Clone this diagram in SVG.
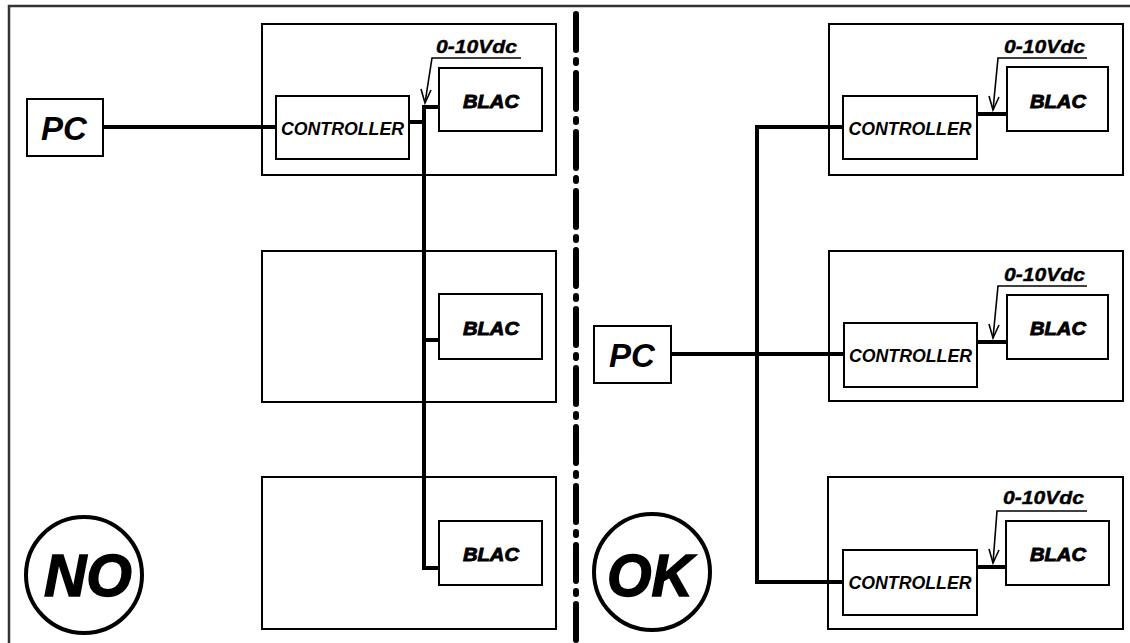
<svg xmlns="http://www.w3.org/2000/svg" width="1130" height="643" viewBox="0 0 1130 643">
<style>
.frame{fill:none;stroke:#333;stroke-width:2.5}
.box{fill:#fff;stroke:#000;stroke-width:2}
.wire{fill:none;stroke:#000;stroke-width:4}
.thin{fill:none;stroke:#000;stroke-width:1.6}
.ctl{font-family:"Liberation Sans",Arial,sans-serif;font-style:italic;font-weight:bold;font-size:18px;text-anchor:middle}
.blac{font-family:"Liberation Sans",Arial,sans-serif;font-style:italic;font-weight:bold;font-size:19px;text-anchor:middle;stroke:#000;stroke-width:0.9}
.pc{font-family:"Liberation Sans",Arial,sans-serif;font-style:italic;font-weight:bold;font-size:33px;text-anchor:middle}
.v{font-family:"Liberation Sans",Arial,sans-serif;font-style:italic;font-weight:bold;font-size:18.5px;stroke:#000;stroke-width:0.4}
.big{font-family:"Liberation Sans",Arial,sans-serif;font-style:italic;font-weight:bold;font-size:60px;text-anchor:middle;stroke:#000;stroke-width:1.5}
.ring{fill:none;stroke:#000;stroke-width:4}
</style>
<rect width="1130" height="643" fill="#fff"/>
<rect class="frame" x="9" y="6" width="1135" height="650"/>
<line x1="576" y1="14" x2="576" y2="643" stroke="#000" stroke-width="6" stroke-linecap="round" stroke-dasharray="36 10 3 10"/>

<g id="left-unit1">
<rect class="box" x="262" y="24" width="294" height="151"/>
<rect class="box" x="276" y="96" width="133" height="63"/>
<text class="ctl" x="342.5" y="135" textLength="123" lengthAdjust="spacingAndGlyphs">CONTROLLER</text>
<rect class="box" x="439" y="68" width="103" height="63"/>
<text class="blac" x="491" y="108" textLength="56" lengthAdjust="spacingAndGlyphs">BLAC</text>
</g>
<g id="left-unit2">
<rect class="box" x="262" y="251" width="294" height="151"/>
<rect class="box" x="439" y="294" width="103" height="65"/>
<text class="blac" x="491" y="335" textLength="56" lengthAdjust="spacingAndGlyphs">BLAC</text>
</g>
<g id="left-unit3">
<rect class="box" x="262" y="477" width="294" height="152"/>
<rect class="box" x="439" y="521" width="103" height="64"/>
<text class="blac" x="491" y="561" textLength="56" lengthAdjust="spacingAndGlyphs">BLAC</text>
</g>
<g id="left-pc">
<rect class="box" x="27" y="99" width="76" height="57"/>
<text class="pc" x="64" y="140">PC</text>
</g>
<g id="no-badge">
<circle class="ring" cx="84" cy="575" r="58"/>
<text class="big" x="88" y="596" textLength="88" lengthAdjust="spacingAndGlyphs">NO</text>
</g>

<g id="right-unit1">
<rect class="box" x="829" y="24" width="294" height="151"/>
<rect class="box" x="843" y="96" width="134" height="63"/>
<text class="ctl" x="910" y="135" textLength="123" lengthAdjust="spacingAndGlyphs">CONTROLLER</text>
<rect class="box" x="1007" y="67" width="101" height="64"/>
<text class="blac" x="1058" y="108" textLength="56" lengthAdjust="spacingAndGlyphs">BLAC</text>
</g>
<g id="right-unit2">
<rect class="box" x="829" y="251" width="294" height="150"/>
<rect class="box" x="844" y="323" width="133" height="64"/>
<text class="ctl" x="910.5" y="362" textLength="123" lengthAdjust="spacingAndGlyphs">CONTROLLER</text>
<rect class="box" x="1007" y="295" width="101" height="64"/>
<text class="blac" x="1058" y="335" textLength="56" lengthAdjust="spacingAndGlyphs">BLAC</text>
</g>
<g id="right-unit3">
<rect class="box" x="828" y="477" width="295" height="152"/>
<rect class="box" x="843" y="550" width="134" height="65"/>
<text class="ctl" x="910" y="589" textLength="123" lengthAdjust="spacingAndGlyphs">CONTROLLER</text>
<rect class="box" x="1006" y="521" width="103" height="64"/>
<text class="blac" x="1058" y="561" textLength="56" lengthAdjust="spacingAndGlyphs">BLAC</text>
</g>
<g id="right-pc">
<rect class="box" x="594" y="326" width="77" height="57"/>
<text class="pc" x="632" y="367">PC</text>
</g>
<g id="ok-badge">
<circle class="ring" cx="652" cy="572" r="58"/>
<text class="big" x="650" y="596" textLength="86" lengthAdjust="spacingAndGlyphs">OK</text>
</g>

<g id="connectors">
<polyline class="wire" points="103,127 276,127"/>
<polyline class="wire" points="409,122 424,122"/>
<polyline class="wire" points="424,105 424,570"/>
<polyline class="wire" points="424,107 439,107"/>
<polyline class="wire" points="424,340 439,340"/>
<polyline class="wire" points="424,568 439,568"/>
<polyline class="wire" points="843,127 757,127 757,582 843,582"/>
<polyline class="wire" points="671,354 844,354"/>
<polyline class="wire" points="977,114 1007,114"/>
<polyline class="wire" points="977,342 1007,342"/>
<polyline class="wire" points="977,567 1006,567"/>
</g>

<g id="labels">
<text class="v" x="436" y="53" textLength="81" lengthAdjust="spacingAndGlyphs">0-10Vdc</text>
<polyline class="thin" points="521,58 432,58 425,103"/>
<polyline class="thin" points="421,89 425,103 431,90"/>
<text class="v" x="1004" y="53" textLength="81" lengthAdjust="spacingAndGlyphs">0-10Vdc</text>
<polyline class="thin" points="1087,58 998,58 993,110"/>
<polyline class="thin" points="989,96 993,110 999,97"/>
<text class="v" x="1004" y="281" textLength="81" lengthAdjust="spacingAndGlyphs">0-10Vdc</text>
<polyline class="thin" points="1087,286 998,286 993,338"/>
<polyline class="thin" points="989,324 993,338 999,325"/>
<text class="v" x="1003" y="504" textLength="81" lengthAdjust="spacingAndGlyphs">0-10Vdc</text>
<polyline class="thin" points="1087,511 997,511 993,563"/>
<polyline class="thin" points="989,549 993,563 999,550"/>
</g>
</svg>
